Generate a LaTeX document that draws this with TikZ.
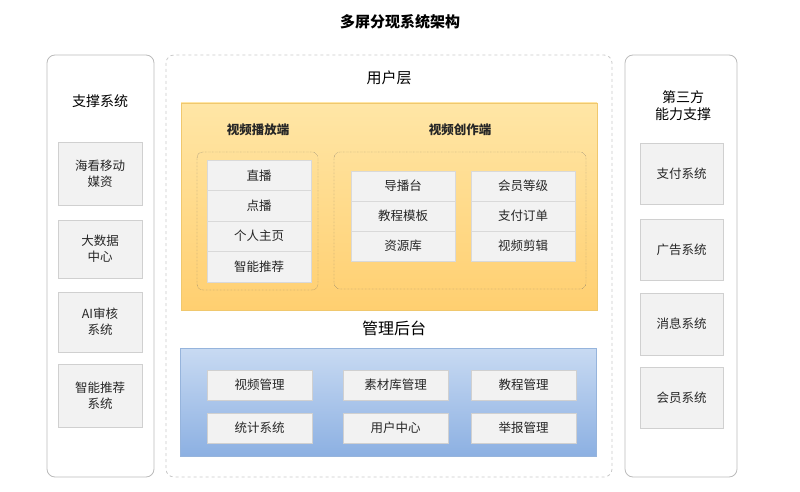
\documentclass[tikz,border=0pt]{standalone}
\usepackage{fontspec}
\setmainfont{Noto Sans CJK SC}
\usepackage{xcolor}
\definecolor{colorPanel}{HTML}{BBBBBB}
\definecolor{colorItem}{HTML}{F2F2F2}
\definecolor{colorItemLine}{HTML}{D0D0D0}
\definecolor{colorUserTop}{RGB}{255,230,166}
\definecolor{colorUserBot}{RGB}{255,207,112}
\definecolor{colorUserLine}{RGB}{240,200,110}
\definecolor{colorAdmTop}{RGB}{200,218,242}
\definecolor{colorAdmBot}{RGB}{140,176,226}
\definecolor{colorAdmLine}{RGB}{150,180,220}
\usetikzlibrary{positioning}
\tikzset{
  panel/.style={draw=colorPanel, rounded corners=8pt, line width=0.8pt},
  item/.style={draw=colorItemLine, fill=colorItem, line width=0.6pt},
  cell/.style={fill=colorItem, draw=white!85!black, line width=0.6pt},
  ttl/.style={font=\fontsize{14}{17}\selectfont},
  txt/.style={font=\fontsize{12.5}{16}\selectfont, align=center, text=black!85}
}
\begin{document}
\begin{tikzpicture}[x=1pt, y=-1pt]
\useasboundingbox (0,0) rectangle (800,492);
\node[font=\fontsize{15}{18}\selectfont\bfseries] (title) at (400,22) {多屏分现系统架构};
% left panel
\draw[panel] (47,55) rectangle (154,477);
\node[ttl] (leftT) at (100,101) {支撑系统};
\foreach \ya/\yb/\t [count=\i] in {142/205/海看移动\\媒资, 220/278/大数据\\中心, 292/352/AI审核\\系统, 364/427/智能推荐\\系统}{
  \draw[item] (58,\ya) rectangle (142,\yb);
  \node[txt] (left\i) at (100,{(\ya+\yb)/2}) {\t};
}
% right panel
\draw[panel] (625,55) rectangle (737,477);
\node[ttl, align=center] (rightT) at (683,106) {第三方\\能力支撑};
\foreach \ya/\yb/\t [count=\i] in {143/204/支付系统, 219/280/广告系统, 293/355/消息系统, 367/428/会员系统}{
  \draw[item] (640,\ya) rectangle (723,\yb);
  \node[txt] (right\i) at (681.5,{(\ya+\yb)/2}) {\t};
}
% middle
\draw[panel, dashed, draw=colorPanel!80] (166,55) rectangle (612,477);
\node[font=\fontsize{15}{18}\selectfont] (userT) at (389,78) {用户层};
\shade[top color=colorUserTop, bottom color=colorUserBot] (181,103) rectangle (597,310);
\draw[colorUserLine] (181,103) rectangle (597,310);
\node[txt, font=\fontsize{12.5}{16}\selectfont\bfseries] (playT) at (258,130) {视频播放端};
\node[txt, font=\fontsize{12.5}{16}\selectfont\bfseries] (makeT) at (460,130) {视频创作端};
\draw[densely dotted, rounded corners=6pt, black!60] (197,152) rectangle (318,290);
\draw[densely dotted, rounded corners=6pt, black!60] (334,152) rectangle (586,289);
\foreach \ya/\t [count=\i] in {160/直播, 190.5/点播, 221/个人主页, 251.5/智能推荐}{
  \draw[cell] (207,\ya) rectangle (311,\ya+30.5);
  \node[txt] (play\i) at (259,\ya+15.25) {\t};
}
\foreach \ya/\ta/\tb [count=\i] in {171/导播台/会员等级, 201/教程模板/支付订单, 231/资源库/视频剪辑}{
  \draw[cell] (351,\ya) rectangle (455,\ya+30);
  \node[txt] (makeA\i) at (403,\ya+15) {\ta};
  \draw[cell] (471,\ya) rectangle (575,\ya+30);
  \node[txt] (makeB\i) at (523,\ya+15) {\tb};
}
% admin
\node[font=\fontsize{16}{19}\selectfont] (adminT) at (394,328) {管理后台};
\shade[top color=colorAdmTop, bottom color=colorAdmBot] (180,348) rectangle (596,456);
\draw[colorAdmLine] (180,348) rectangle (596,456);
\foreach \xa/\t [count=\i] in {207/视频管理, 343/素材库管理, 471/教程管理}{
  \draw[item] (\xa,370) rectangle (\xa+105,400);
  \node[txt] (admA\i) at (\xa+52.5,385) {\t};
}
\foreach \xa/\t [count=\i] in {207/统计系统, 343/用户中心, 471/举报管理}{
  \draw[item] (\xa,413) rectangle (\xa+105,443);
  \node[txt] (admB\i) at (\xa+52.5,428) {\t};
}
\end{tikzpicture}
\end{document}
